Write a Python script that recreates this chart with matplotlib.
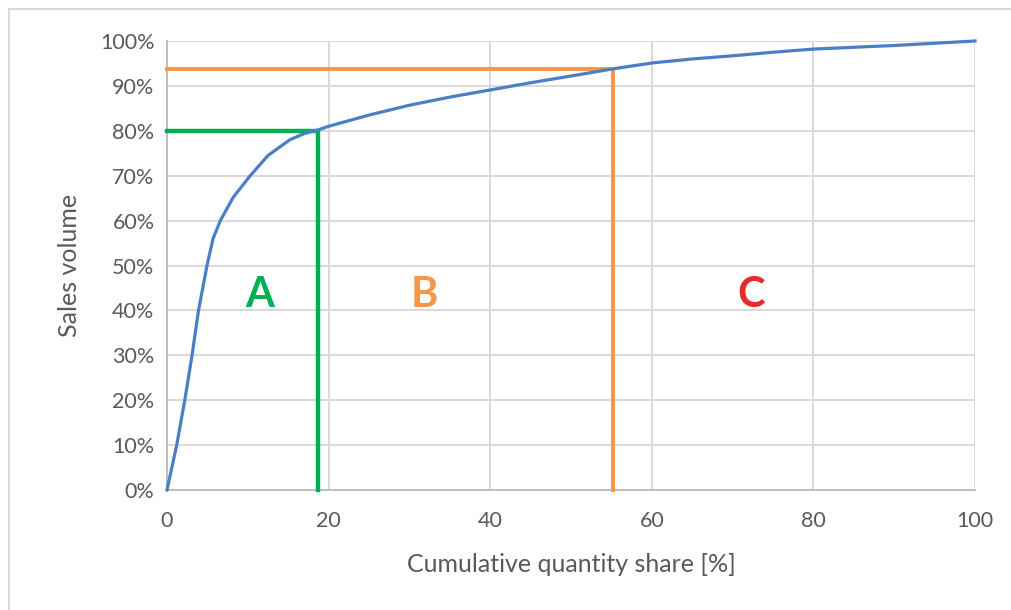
import matplotlib
matplotlib.use("Agg")
import matplotlib.pyplot as plt
from matplotlib.lines import Line2D
from matplotlib.ticker import PercentFormatter, MultipleLocator

# cumulative quantity share [%] vs. cumulative sales volume [%]
quantity_share = [0, 1.2, 2.2, 3.1, 3.9, 4.95, 5.7, 6.6, 8.2, 10.3, 12.5, 15.2, 17, 18.7,
                  20, 25, 30, 35, 40, 45, 50, 55.2, 60, 65, 70, 75, 80, 85, 90, 95, 100]
sales_volume = [0, 10, 20, 30, 40, 50, 56, 60, 65.2, 70, 74.5, 78, 79.4, 80.2,
                81, 83.5, 85.7, 87.5, 89.1, 90.7, 92.2, 93.8, 95.1, 96, 96.7, 97.5, 98.2, 98.6, 99.0, 99.5, 100]

# class boundaries
a_limit = (18.7, 80)
b_limit = (55.2, 93.8)

class_labels = ["A", "B", "C"]
label_x = [11.5, 31.9, 72.3]
label_y = [43.4, 43.4, 43.4]
label_colors = ["#00B050", "#F79646", "#E52B2B"]

plt.rcParams['font.family'] = ['Lato', 'DejaVu Sans']
text_color = "#595959"

fig = plt.figure(figsize=(10.11, 6.10), dpi=100)
ax = fig.add_axes([167 / 1011, 1 - 490 / 610, (975 - 167) / 1011, (490 - 41) / 610])

# chart area frame (only top/left edge visible in the crop)
fig.add_artist(Line2D([8.5 / 1011, 8.5 / 1011], [0, 1 - 9 / 610], transform=fig.transFigure,
                      color="#D9D9D9", lw=1.5))
fig.add_artist(Line2D([8.5 / 1011, 1], [1 - 9 / 610, 1 - 9 / 610], transform=fig.transFigure,
                      color="#D9D9D9", lw=1.5))

# guide lines
ax.plot([0, a_limit[0], a_limit[0]], [a_limit[1], a_limit[1], 0], color="#00B050", lw=3.2,
        solid_joinstyle="miter", zorder=3, clip_on=False)
ax.plot([0, b_limit[0], b_limit[0]], [b_limit[1], b_limit[1], 0], color="#F79646", lw=2.8,
        solid_joinstyle="miter", zorder=3, clip_on=False)

ax.plot(quantity_share, sales_volume, color="#4A7EC6", lw=2.3, zorder=4, clip_on=False,
        solid_joinstyle="round")

for lab, x, y, c in zip(class_labels, label_x, label_y, label_colors):
    ax.text(x, y, lab, color=c, fontsize=30, fontweight="bold", ha="center", va="center")

ax.set_xlim(0, 100)
ax.set_ylim(0, 100)
ax.xaxis.set_major_locator(MultipleLocator(20))
ax.yaxis.set_major_locator(MultipleLocator(10))
ax.yaxis.set_major_formatter(PercentFormatter(100, decimals=0))
ax.grid(True, color="#D9D9D9", lw=1.4, zorder=0)
ax.set_axisbelow(True)
for side in ["top", "right"]:
    ax.spines[side].set_visible(False)
for side in ["left", "bottom"]:
    ax.spines[side].set_color("#BFBFBF")
    ax.spines[side].set_linewidth(1.4)
ax.tick_params(length=0, labelsize=15.5, labelcolor=text_color)
ax.tick_params(axis="x", pad=15)
ax.tick_params(axis="y", pad=9)

ax.set_xlabel("Cumulative quantity share [%]", fontsize=18, color=text_color, labelpad=16)
ax.set_ylabel("Sales volume", fontsize=18, color=text_color, labelpad=14)

fig.savefig("out.png", dpi=100, facecolor="white")
